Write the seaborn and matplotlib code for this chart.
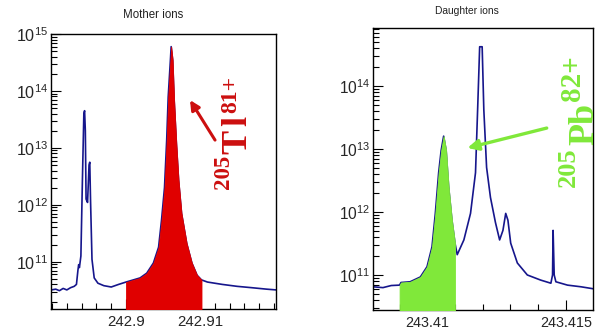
import numpy as np
import pandas as pd
import matplotlib
matplotlib.use("Agg")
import matplotlib.pyplot as plt
import seaborn as sns
from matplotlib.ticker import (FixedLocator, FixedFormatter, MultipleLocator,
                               LogLocator, LogFormatterSciNotation, NullFormatter)

# ---------------- data ----------------
mother_title = "Mother ions"
daughter_title = "Daughter ions"

mother_x = [242.8899, 242.8905, 242.8910, 242.8915, 242.8920, 242.8925, 242.8930,
            242.8933, 242.8935, 242.8936, 242.8937, 242.8939, 242.8941, 242.8943,
            242.8944, 242.8945, 242.8946, 242.8948, 242.8950, 242.8951, 242.8952,
            242.8954, 242.8957, 242.8962, 242.8970, 242.8980, 242.8990, 242.9000,
            242.9010, 242.9019, 242.9028, 242.9037, 242.9044, 242.9048, 242.9052,
            242.9055, 242.9057, 242.9060, 242.9061, 242.9063, 242.9065, 242.9068,
            242.9071, 242.9075, 242.9082, 242.9089, 242.9096, 242.9102, 242.9110,
            242.9130, 242.9150, 242.9170, 242.9190, 242.9203]
mother_counts = [3.2e10, 3.3e10, 3.1e10, 3.4e10, 3.2e10, 3.5e10, 3.7e10,
                 4.0e10, 7.1e10, 8.9e10, 7.9e10, 1.26e11, 2.5e12, 4.0e13,
                 4.5e13, 2.0e13, 1.26e12, 1.1e12, 5.0e12, 5.6e12, 1.26e12,
                 1.1e11, 5.2e10, 4.2e10, 3.8e10, 3.6e10, 4.0e10, 4.4e10,
                 4.8e10, 5.2e10, 6.3e10, 9.5e10, 1.8e11, 5.4e11, 2.0e12,
                 1.4e13, 7.8e13, 3.5e14, 6.0e14, 3.5e14, 6.9e13, 1.2e13,
                 2.7e12, 7.1e11, 2.1e11, 9.5e10, 5.8e10, 4.8e10, 4.4e10,
                 4.0e10, 3.7e10, 3.5e10, 3.3e10, 3.2e10]
mother_gate = [242.9000, 242.9102]          # red-filled window (205Tl81+)
mother_xticks = [242.9, 242.91]
mother_xticklabels = ["242.9", "242.91"]

daughter_x = [243.40803, 243.40840, 243.40870, 243.40900, 243.40905, 243.40938,
              243.40975, 243.40999, 243.41017, 243.41029, 243.41041, 243.41050,
              243.41059, 243.41068, 243.41077, 243.41089, 243.41100, 243.41108,
              243.41132, 243.41156, 243.41174, 243.41182, 243.41189, 243.41198,
              243.41204, 243.41214, 243.41228, 243.41246, 243.41261, 243.41273,
              243.41283, 243.41291, 243.41301, 243.41325, 243.41361, 243.41409,
              243.41446, 243.41452, 243.41454, 243.41458, 243.41464, 243.41506,
              243.41554, 243.41603]
daughter_counts = [6.5e10, 6.3e10, 6.8e10, 6.9e10, 7.6e10, 7.8e10,
                   9.3e10, 1.35e11, 2.8e11, 9.5e11, 4.2e12, 9.5e12,
                   1.6e13, 9.5e12, 2.5e12, 7.4e11, 3.2e11, 2.1e11,
                   3.6e11, 9.5e11, 4.2e12, 4.7e13, 4.2e14, 4.2e14,
                   4.2e13, 5.1e12, 1.7e12, 6.8e11, 3.6e11, 5.1e11,
                   9.5e11, 7.4e11, 3.2e11, 1.55e11, 1.0e11, 8.3e10,
                   7.4e10, 1.0e11, 5.1e11, 1.0e11, 7.8e10, 6.9e10,
                   6.5e10, 6.0e10]
daughter_gate = [243.40900, 243.41100]      # green-filled window (205Pb82+)
daughter_xticks = [243.41, 243.415]
daughter_xticklabels = ["243.41", "243.415"]

# isotope labels: mass number, element symbol (letters), charge state
mother_label_parts = ["205", "T", "l", "81+"]
daughter_label_parts = ["205", "Pb", "82+"]

# ---------------- style ----------------
sns.set_theme(style="white")
plt.rcParams['font.family'] = ['Liberation Sans', 'DejaVu Sans']
plt.rcParams['mathtext.default'] = 'regular'

BLUE = '#16168c'
RED = '#e00000'
RED_TXT = '#cc0f0f'
GREEN = '#80e83a'

fig = plt.figure(figsize=(6.02, 3.30), dpi=100)
fig.patch.set_facecolor('white')

axL = fig.add_axes([51 / 602, 21 / 330, 225 / 602, 275 / 330])
axR = fig.add_axes([372.7 / 602, 20 / 330, 220.3 / 602, 282 / 330])

mother_df = pd.DataFrame({"mass": mother_x, "counts": mother_counts})
daughter_df = pd.DataFrame({"mass": daughter_x, "counts": daughter_counts})


def draw_panel(ax, df, gate, fill_color, xlim, ylim, xticks, xticklabels,
               minor_step, tick_fs):
    sns.lineplot(data=df, x="mass", y="counts", ax=ax, color=BLUE, lw=1.2,
                 sort=False, estimator=None, zorder=2)
    ax.set_yscale('log')
    sel = df[(df["mass"] >= gate[0]) & (df["mass"] <= gate[1])]
    ax.fill_between(sel["mass"], ylim[0] * 0.5, sel["counts"], color=fill_color,
                    lw=0.6, edgecolor=fill_color, zorder=3)
    ax.set_xlim(*xlim)
    ax.set_ylim(*ylim)
    ax.set_xlabel("")
    ax.set_ylabel("")
    ax.xaxis.set_major_locator(FixedLocator(xticks))
    ax.xaxis.set_major_formatter(FixedFormatter(xticklabels))
    ax.xaxis.set_minor_locator(MultipleLocator(minor_step))
    ax.yaxis.set_major_locator(LogLocator(base=10))
    ax.yaxis.set_major_formatter(LogFormatterSciNotation())
    ax.yaxis.set_minor_locator(LogLocator(base=10, subs=np.arange(2, 10)))
    ax.yaxis.set_minor_formatter(NullFormatter())
    ax.tick_params(axis='both', which='both', direction='in', top=False,
                   right=False, bottom=True, left=True, color='black')
    ax.tick_params(axis='both', which='major', length=7, width=0.8)
    ax.tick_params(axis='both', which='minor', length=4, width=0.8)
    ax.tick_params(axis='x', which='major', pad=4, labelsize=tick_fs)
    ax.tick_params(axis='y', which='major', pad=2, labelsize=tick_fs + 0.8)
    for s in ax.spines.values():
        s.set_visible(True)
        s.set_color('black')
        s.set_linewidth(1.0)
    ax.set_facecolor('white')
    ax.grid(False)


draw_panel(axL, mother_df, mother_gate, RED,
           (242.88986, 242.92027), (10 ** 10.17, 1.0e15),
           mother_xticks, mother_xticklabels, 0.002, 10.8)
draw_panel(axR, daughter_df, daughter_gate, GREEN,
           (243.40803, 243.41598), (10 ** 10.444, 10 ** 14.921),
           daughter_xticks, daughter_xticklabels, 0.001, 10.4)

# titles
fig.text(153 / 602, 1 - 15 / 330, mother_title, ha='center', va='center',
         fontsize=8.3, color='#222222')
fig.text(467 / 602, 1 - 11 / 330, daughter_title, ha='center', va='center',
         fontsize=7.4, color='#222222')

renderer = fig.canvas.get_renderer()


def isotope_label(ax, anchor, parts, sizes, lateral, gaps, color):
    """Vertical label read bottom-to-top; pieces share a baseline, the
    superscripts are shifted towards the glyph tops (left on screen)."""
    along = 0.0
    for txt, fs, lat, gap in zip(parts, sizes, lateral, gaps):
        t = ax.annotate(txt, xy=anchor, xycoords='data',
                        xytext=(lat, along), textcoords='offset pixels',
                        rotation=90, rotation_mode='anchor',
                        ha='left', va='baseline', color=color, fontsize=fs,
                        fontfamily='Liberation Serif', fontweight='bold',
                        annotation_clip=False, zorder=6)
        bb = t.get_window_extent(renderer)
        along += bb.height + gap


# annotations
axL.annotate('', xy=(242.90865, 6.9e13), xytext=(242.91203, 1.37e13),
             arrowprops=dict(arrowstyle='-|>', color=RED_TXT, lw=2.2,
                             mutation_scale=14, shrinkA=0, shrinkB=0), zorder=5)
isotope_label(axL, (242.91622, 1.9e12), mother_label_parts,
              sizes=[16.5, 26, 26, 17], lateral=[-17, 0, 0, -10],
              gaps=[1, 4, 2, 0], color=RED_TXT)

axR.annotate('', xy=(243.41145, 1.04e13), xytext=(243.41431, 2.15e13),
             arrowprops=dict(arrowstyle='-|>', color=GREEN, lw=2.4,
                             mutation_scale=16, shrinkA=0, shrinkB=0), zorder=5)
isotope_label(axR, (243.41601, 2.5e12), daughter_label_parts,
              sizes=[19, 26, 21], lateral=[-19, 0, -14], gaps=[2, 2, 0],
              color=GREEN)

fig.savefig("out.png", dpi=100, facecolor='white')
